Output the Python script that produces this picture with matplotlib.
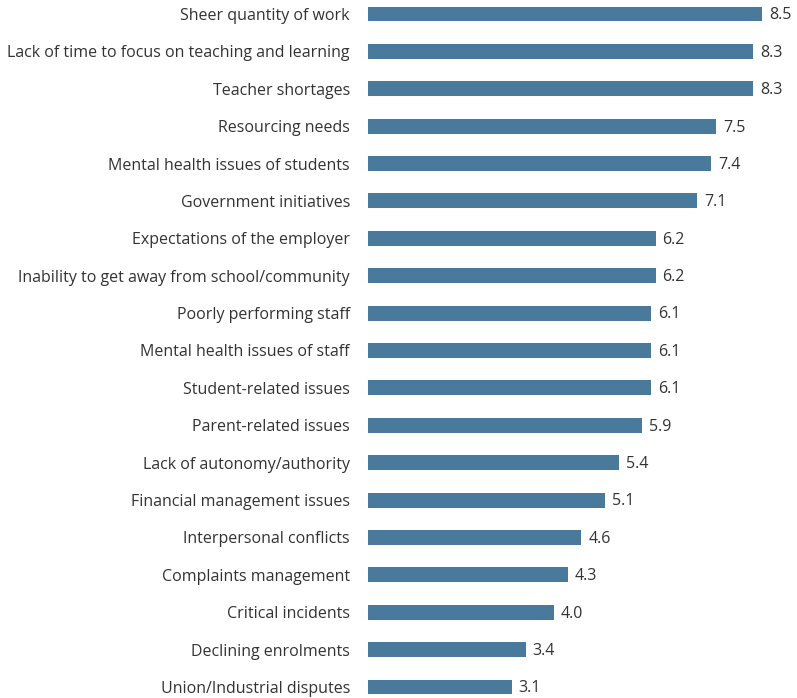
import matplotlib.pyplot as plt
import numpy as np

plt.rcParams['font.family'] = ['Open Sans', 'DejaVu Sans']

labels = ["Sheer quantity of work",
          "Lack of time to focus on teaching and learning",
          "Teacher shortages",
          "Resourcing needs",
          "Mental health issues of students",
          "Government initiatives",
          "Expectations of the employer",
          "Inability to get away from school/community",
          "Poorly performing staff",
          "Mental health issues of staff",
          "Student-related issues",
          "Parent-related issues",
          "Lack of autonomy/authority",
          "Financial management issues",
          "Interpersonal conflicts",
          "Complaints management",
          "Critical incidents",
          "Declining enrolments",
          "Union/Industrial disputes"]
values = [8.5, 8.3, 8.3, 7.5, 7.4, 7.1, 6.2, 6.2, 6.1, 6.1, 6.1, 5.9, 5.4, 5.1, 4.6, 4.3, 4.0, 3.4, 3.1]

W, H = 797, 698
fig = plt.figure(figsize=(W / 100, H / 100), dpi=100)
ax = fig.add_axes([368 / W, 0, 429 / W, 1])

y = np.arange(len(labels))
ax.barh(y, values, height=0.40, color="#4a7a9b")
for yi, v in zip(y, values):
    ax.annotate(f"{v:.1f}", (v, yi), xytext=(5, -1), textcoords="offset points",
                va="center", ha="left", fontsize=11.5, color="#333333")

ax.set_xlim(0, 429 / 46.4)
ax.set_ylim(18.294, -0.374)
ax.set_yticks(y)
ax.set_yticklabels(labels, fontsize=11.5, color="#333333")
ax.tick_params(axis="y", length=0, pad=13)
ax.set_xticks([])
for s in ax.spines.values():
    s.set_visible(False)

fig.savefig("out.png", dpi=100)
